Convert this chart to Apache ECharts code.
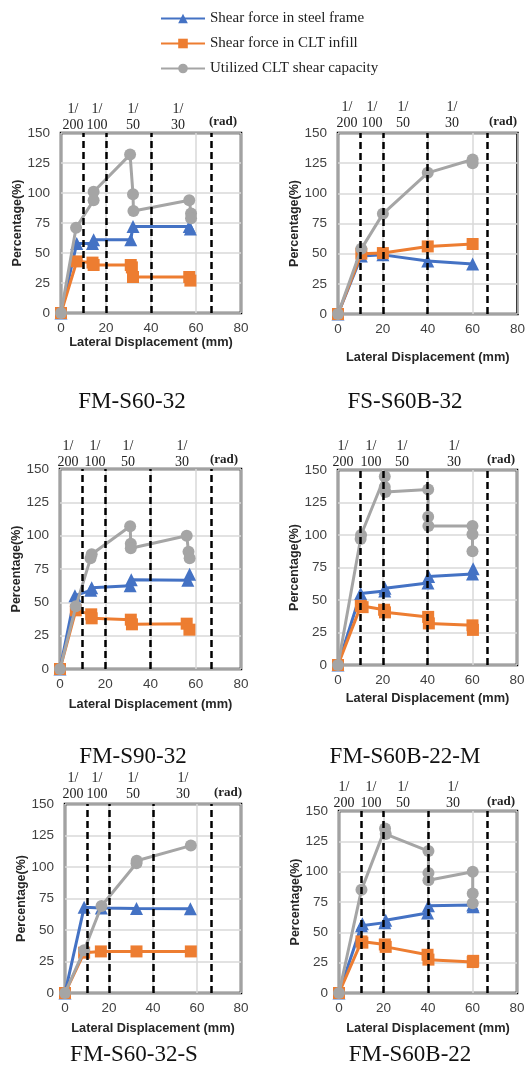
<!DOCTYPE html>
<html>
<head>
<meta charset="utf-8">
<script src="https://cdn.jsdelivr.net/npm/echarts@6.0.0/dist/echarts.min.js"></script>
<style>
  html, body { margin: 0; background: #fff; }
  #chart { width: 528px; height: 1067px; }
</style>
</head>
<body>
<div id="chart"></div>
<script>
// series / panel names
const seriesNames = ['Shear force in steel frame', 'Shear force in CLT infill', 'Utilized CLT shear capacity'];
const panelNames = ['FM-S60-32', 'FS-S60B-32', 'FM-S90-32', 'FM-S60B-22-M', 'FM-S60-32-S', 'FM-S60B-22'];

// drift ratio lines (mm) and their labels
const driftX = [10, 20, 40, 66.7];
const driftLabels = ['1/\n200', '1/\n100', '1/\n50', '1/\n30'];

// [displacement mm, percentage %]
const steel1 = [[0, 0], [7, 58], [14, 58], [14.5, 61], [31, 61], [32, 72], [57, 72], [57.5, 70]];
const infill1 = [[0, 0], [7, 43], [14, 42], [14.5, 40], [31, 40], [31.5, 38], [32, 30], [57, 30], [57.5, 27]];
const clt1 = [[0, 0], [6.7, 71], [14.5, 94], [14.5, 101], [30.7, 132], [32, 99], [32.2, 85], [57, 94], [57.8, 83], [57.8, 79]];

const steel2 = [[0, 0], [10.4, 48], [20, 49], [40, 44], [60, 41.5]];
const infill2 = [[0, 0], [10.4, 50], [20, 50.5], [40, 56], [60, 58]];
const clt2 = [[0, 0], [10.4, 54], [20, 83], [40, 117], [60, 128], [60, 125]];

const steel3 = [[0, 0], [6.6, 55], [13.6, 59], [14, 61], [31, 62.5], [31.5, 67], [56.5, 66.5], [57.3, 71]];
const infill3 = [[0, 0], [7, 44], [13.8, 41], [14, 38], [31.3, 37], [31.8, 33.5], [56, 34], [57.2, 29.5]];
const clt3 = [[0, 0], [7, 47], [13.5, 83], [14, 86], [31, 107], [31.3, 94], [31.3, 90.5], [56, 100], [56.8, 88], [57.3, 83]];

const steel4 = [[0, 0], [10.1, 55], [20.9, 57], [21, 59], [40.2, 63], [40.5, 68], [60.1, 70], [60.4, 74]];
const infill4 = [[0, 0], [10.2, 45.5], [11, 44.5], [20.6, 42.5], [21, 40.5], [40.3, 37], [40.6, 32], [60.1, 30.5], [60.3, 27]];
const clt4 = [[0, 0], [10.1, 97], [10.3, 100], [20.9, 145], [20.9, 137], [21.2, 133], [40.3, 135], [40.3, 114], [40.4, 107], [60.1, 107], [60.1, 100.5], [60.1, 87.5]];

const steel5 = [[0, 0], [8.7, 68], [16.5, 67.5], [32.5, 67], [57, 66.8]];
const infill5 = [[0, 0], [8.7, 32], [16.3, 33], [32.5, 33], [57.2, 33]];
const clt5 = [[0, 0], [8.7, 34], [16.6, 69], [32.5, 103], [32.6, 105], [57.2, 117]];

const steel6 = [[0, 0], [10.1, 55.5], [10.5, 57], [20.6, 58], [21, 60], [39.8, 66], [40.2, 72], [60.1, 72.5], [60.3, 71]];
const infill6 = [[0, 0], [10.1, 42.5], [10.5, 41.5], [20.6, 40], [21, 38], [39.8, 31.5], [40.2, 27.5], [60.1, 25.5], [60.3, 26.5]];
const clt6 = [[0, 0], [10.1, 85], [20.7, 135.5], [21, 131], [40.2, 117], [40.2, 99], [40.2, 93], [60.1, 100], [60.1, 82], [60.1, 74]];

const steelAll = [steel1, steel2, steel3, steel4, steel5, steel6];
const infillAll = [infill1, infill2, infill3, infill4, infill5, infill6];
const cltAll = [clt1, clt2, clt3, clt4, clt5, clt6];

// page layout per panel (pixels)
const layout = [
  {left: 61, top: 133, width: 180, height: 180, xGap: 23, yGap: 32, labX: [73, 97, 133, 178], radX: 223, labTop: 101, radY: 122, tx: 132, ty: 402},
  {left: 338, top: 133, width: 180, height: 181, xGap: 37, yGap: 34, labX: [347, 372, 403, 452], radX: 503, labTop: 99, radY: 122, tx: 405, ty: 402},
  {left: 60, top: 469, width: 181, height: 200, xGap: 29, yGap: 30, labX: [68, 95, 128, 182], radX: 224, labTop: 438, radY: 460, tx: 133, ty: 757},
  {left: 338, top: 470, width: 179, height: 195, xGap: 27, yGap: 34, labX: [343, 371, 402, 454], radX: 501, labTop: 438, radY: 460, tx: 405, ty: 757},
  {left: 65, top: 804, width: 176, height: 189, xGap: 29, yGap: 35, labX: [73, 97, 133, 183], radX: 228, labTop: 770, radY: 793, tx: 134, ty: 1055},
  {left: 339, top: 811, width: 178, height: 182, xGap: 29, yGap: 35, labX: [344, 371, 403, 453], radX: 501, labTop: 779, radY: 802, tx: 410, ty: 1055}
];

const colors = ['#4472C4', '#ED7D31', '#A5A5A5'];
const symbols = ['triangle', 'rect', 'circle'];
const symbolSizes = [13, 12, 12];
const sans = 'Liberation Sans';
const serif = 'Liberation Serif';

const grids = [], xAxes = [], yAxes = [], series = [], graphics = [];

layout.forEach((p, i) => {
  grids.push({left: p.left, top: p.top, width: p.width, height: p.height,
    show: true, borderColor: '#000', borderWidth: 2.5, backgroundColor: 'transparent'});
  xAxes.push({
    type: 'value', gridIndex: i, min: 0, max: 80, interval: 20,
    name: 'Lateral Displacement (mm)', nameLocation: 'middle', nameGap: p.xGap,
    nameTextStyle: {fontFamily: sans, fontWeight: 'bold', fontSize: 12.8, color: '#262626'},
    axisLine: {show: false}, axisTick: {show: false},
    axisLabel: {fontFamily: sans, fontSize: 13.5, color: '#404040', margin: 8},
    splitLine: {lineStyle: {color: '#d9d9d9', width: 1.5}}
  });
  yAxes.push({
    type: 'value', gridIndex: i, min: 0, max: 150, interval: 25,
    name: 'Percentage(%)', nameLocation: 'middle', nameGap: p.yGap,
    nameTextStyle: {fontFamily: sans, fontWeight: 'bold', fontSize: 12.5, color: '#262626'},
    axisLine: {show: false}, axisTick: {show: false},
    axisLabel: {fontFamily: sans, fontSize: 13.5, color: '#404040', margin: 11},
    splitLine: {lineStyle: {color: '#d9d9d9', width: 1.5}}
  });

  // dashed drift lines, under the data
  series.push({
    type: 'line', xAxisIndex: i, yAxisIndex: i, data: [], silent: true, z: 1,
    markLine: {
      silent: true, symbol: ['none', 'none'], label: {show: false},
      lineStyle: {type: [7, 4], color: '#000', width: 2.5},
      emphasis: {disabled: true},
      data: driftX.map(v => ({xAxis: v}))
    }
  });

  [steelAll[i], infillAll[i], cltAll[i]].forEach((d, k) => {
    series.push({
      name: seriesNames[k], type: 'line', xAxisIndex: i, yAxisIndex: i, z: 2 + k,
      data: d, symbol: symbols[k], symbolSize: symbolSizes[k],
      lineStyle: {width: 3, color: colors[k]},
      itemStyle: {color: colors[k]},
      emphasis: {disabled: true}
    });
  });

  driftLabels.forEach((t, j) => {
    graphics.push({type: 'text', x: p.labX[j], y: p.labTop,
      style: {text: t, font: '14px ' + serif, fill: '#222', align: 'center', verticalAlign: 'top', lineHeight: 16}});
  });
  graphics.push({type: 'text', x: p.radX, y: p.radY,
    style: {text: '(rad)', font: 'bold 13px ' + serif, fill: '#222', align: 'center', verticalAlign: 'middle'}});
  graphics.push({type: 'text', x: p.tx, y: p.ty,
    style: {text: panelNames[i], font: '23px ' + serif, fill: '#111', align: 'center', verticalAlign: 'middle'}});
});

const chart = echarts.init(document.getElementById('chart'));
chart.setOption({
  backgroundColor: '#fff',
  animation: false,
  legend: {
    orient: 'vertical', left: 155, top: 6, itemWidth: 44, itemHeight: 12, itemGap: 10,
    data: seriesNames, selectedMode: false,
    textStyle: {fontFamily: serif, fontSize: 15, color: '#222'}
  },
  grid: grids,
  xAxis: xAxes,
  yAxis: yAxes,
  series: series,
  graphic: graphics
});
</script>
</body>
</html>
